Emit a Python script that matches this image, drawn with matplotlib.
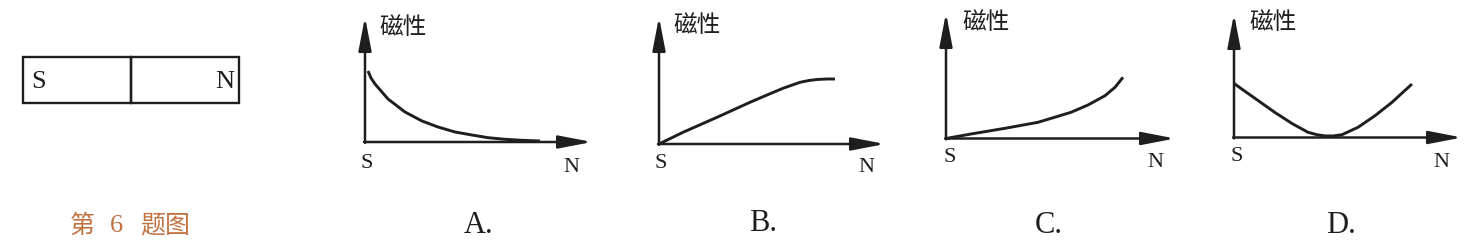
import matplotlib
matplotlib.use("Agg")
import matplotlib.pyplot as plt
from matplotlib.patches import Rectangle

W, H = 1481, 251

# readings (pixels from the origin, y up)
a_pos = [3, 6, 10, 23, 40, 57, 73, 90, 107, 123, 140, 157, 175]
a_mag = [71, 64, 58, 43, 30, 21, 15, 10, 7, 4.3, 2.7, 1.7, 1]

b_pos = [0, 24, 58, 91, 108, 124, 141, 150, 158, 168, 176]
b_mag = [0, 11.7, 26.7, 41.7, 49, 55.7, 61.7, 63.5, 64.5, 65, 65]

c_pos = [0, 25, 59, 92, 125, 142, 159, 169, 177]
c_mag = [0, 4.5, 10.2, 16.2, 26.2, 33.5, 42.8, 51.2, 61.2]

d_pos = [0, 24, 41, 58, 74, 83, 91, 99, 108, 124, 141, 158, 178]
d_mag = [54, 37, 25, 14, 5.2, 2.8, 1.6, 1.5, 2.8, 10.2, 21.8, 35.2, 53.5]

options = ["A.", "B.", "C.", "D."]
ylabel = "磁性"
caption = ["第", "6", "题图"]

ink = "#1e1e1e"
serif = "Liberation Serif"
cjk = ["Noto Sans CJK SC", "DejaVu Sans"]

fig = plt.figure(figsize=(W / 100, H / 100), dpi=100)

# base layer: magnet and caption
ax0 = fig.add_axes([0, 0, 1, 1])
ax0.set_xlim(0, W)
ax0.set_ylim(H, 0)
ax0.axis("off")
ax0.add_patch(Rectangle((23, 58), 108, 46, fill=False, lw=1.7, ec=ink))
ax0.add_patch(Rectangle((131, 58), 108, 46, fill=False, lw=1.7, ec=ink))
ax0.text(39, 82, "S", ha="center", va="center", fontsize=19, family=serif, color=ink)
ax0.text(225, 82, "N", ha="center", va="center", fontsize=19, family=serif, color=ink)
cap_col = "#c2723f"
ax0.text(82, 226, caption[0], ha="center", va="center", fontsize=18, family=cjk, color=cap_col)
ax0.text(116, 226, caption[1], ha="center", va="center", fontsize=19, family=serif, color=cap_col)
ax0.text(165, 226, caption[2], ha="center", va="center", fontsize=18, family=cjk, color=cap_col)

# panel layout: origin in pixels (from top-left), axis tips, text offsets
panels = [
    dict(o=(365, 143), xt=227, yt=125, pos=a_pos, mag=a_mag, lab=(38, 116), s=(2, -21), n=(206, -24), opt=(114, -83)),
    dict(o=(659, 145), xt=226, yt=127, pos=b_pos, mag=b_mag, lab=(38, 119), s=(2, -18), n=(207, -22), opt=(104, -79)),
    dict(o=(946, 139.5), xt=229, yt=125.5, pos=c_pos, mag=c_mag, lab=(40, 117), s=(4, -18), n=(209, -23), opt=(103, -86)),
    dict(o=(1234, 138.5), xt=228, yt=123.5, pos=d_pos, mag=d_mag, lab=(39, 116), s=(3, -18), n=(207, -24), opt=(107, -87)),
]

for p, opt in zip(panels, options):
    ox, oy = p["o"]
    ax = fig.add_axes([(ox - 60) / W, 0, 300 / W, 1])
    ax.set_xlim(-60, 240)
    ax.set_ylim(-(H - oy), oy)
    ax.axis("off")
    ax.patch.set_alpha(0)
    arrow = dict(arrowstyle="-|>,head_length=1.45,head_width=0.28", lw=1.8,
                 color=ink, mutation_scale=14, shrinkA=0, shrinkB=0)
    ax.annotate("", xy=(p["xt"], 0), xytext=(-0.9, 0), arrowprops=arrow)
    ax.annotate("", xy=(0, p["yt"]), xytext=(0, -0.9), arrowprops=arrow)
    ax.plot(p["pos"], p["mag"], color=ink, lw=2.1, solid_capstyle="butt",
            solid_joinstyle="round")
    ax.text(*p["lab"], ylabel, ha="center", va="center", fontsize=17, family=cjk, color=ink)
    ax.text(*p["s"], "S", ha="center", va="center", fontsize=16, family=serif, color=ink)
    ax.text(*p["n"], "N", ha="center", va="center", fontsize=16, family=serif, color=ink)
    ax.text(*p["opt"], opt, ha="center", va="center", fontsize=22, family=serif, color=ink)

fig.savefig("out.png", dpi=100, facecolor="white")
